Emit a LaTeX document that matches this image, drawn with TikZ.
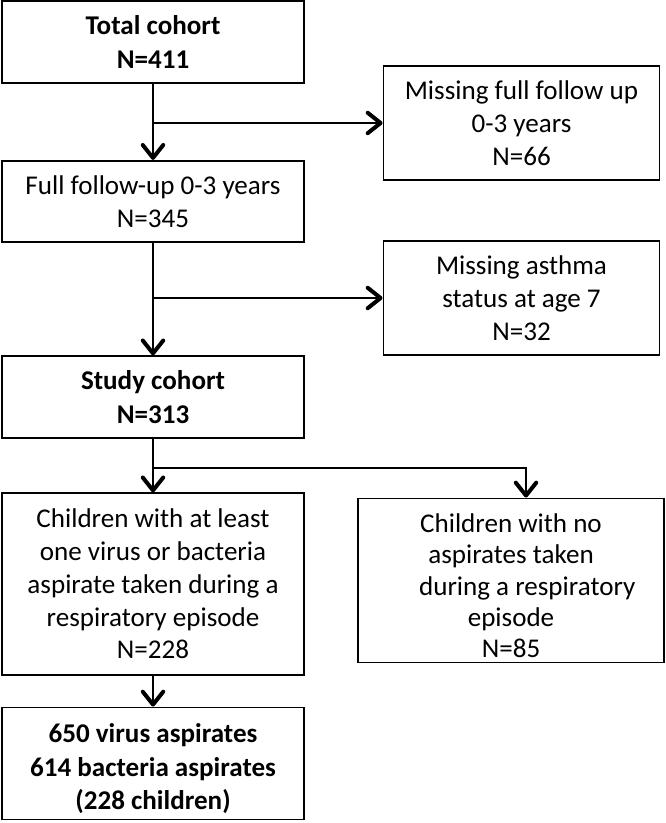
\documentclass[tikz,border=0pt]{standalone}
\usepackage{fontspec}
\setmainfont{Carlito}
\usetikzlibrary{arrows.meta,positioning,calc}

\begin{document}
\begin{tikzpicture}[
  x=0.75pt, y=-0.75pt,
  box/.style={draw, rectangle, line width=1.4pt, align=center, inner sep=2pt,
    font=\fontsize{20.3}{24.6}\selectfont},
  >={Straight Barb[length=3.4mm, width=5.4mm, line width=3pt, round]},
  link/.style={line width=1.9pt}
]
  \useasboundingbox (0,0) rectangle (666,823);

  % Main column
  \node[box, minimum width=227pt, minimum height=61pt, font=\fontsize{20.3}{26}\selectfont] (total) at (153,42) {\textbf{Total cohort}\\\textbf{N=411}};
  \node[box, minimum width=227pt, minimum height=61pt] (follow) at (153,201.5) {Full follow-up 0-3 years\\N=345};
  \node[box, minimum width=227pt, minimum height=61pt, font=\fontsize{20.3}{26}\selectfont] (study) at (153,397) {\textbf{Study cohort}\\\textbf{N=313}};
  \node[box, minimum width=227pt, minimum height=136pt] (withasp) at (153,584) {Children with at least\\one virus or bacteria\\aspirate taken during a\\respiratory episode\\N=228};
  \node[box, minimum width=227pt, minimum height=84pt, font=\fontsize{20.3}{25.2}\selectfont] (aspirates) at (153,763.5) {\rule{0pt}{22pt}\textbf{650 virus aspirates}\\\textbf{614 bacteria aspirates}\\\textbf{(228 children)}};

  % Excluded column
  \node[box, minimum width=207pt, minimum height=86pt] (missfu) at (521.5,123) {Missing full follow up\\0-3 years\\N=66};
  \node[box, minimum width=207pt, minimum height=86pt] (missast) at (521.5,298) {Missing asthma\\status at age 7\\N=32};
  \node[box, minimum width=230pt, minimum height=123pt, font=\fontsize{20.3}{23.5}\selectfont] (noasp) at (511,580.5) {\rule{0pt}{22pt}Children with no\\aspirates taken\\\hspace*{1.2em}during a respiratory\\episode\\N=85};

  % Branch points
  \coordinate (b1) at (153,123);
  \coordinate (b2) at (153,298);
  \coordinate (b3) at (153,468);
  \coordinate (b3r) at (526,468);

  \draw[link,->] (total) -- (follow);
  \draw[link,->] (b1) -- (missfu.west);
  \draw[link,->] (follow) -- (study);
  \draw[link,->] (b2) -- (missast.west);
  \draw[link,->] (study) -- (withasp);
  \draw[link,->] (b3) -- (b3r) -- (b3r |- noasp.north);
  \draw[link,->] (withasp) -- (aspirates);
\end{tikzpicture}
\end{document}
